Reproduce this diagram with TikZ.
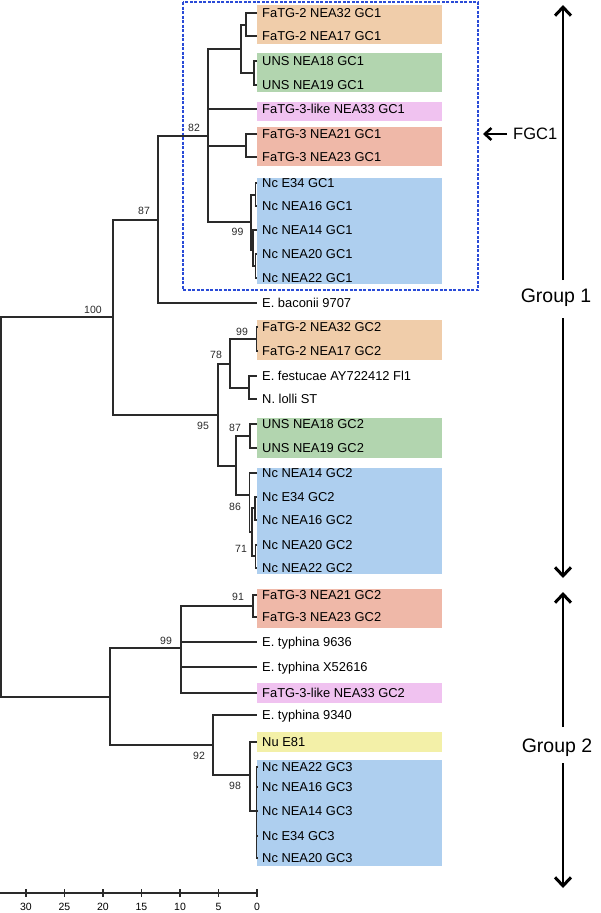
\documentclass[tikz,border=0pt]{standalone}
\usepackage{fontspec}
\setmainfont{Liberation Sans}
\usetikzlibrary{arrows.meta}
\definecolor{cOr}{HTML}{F0CDAA}
\definecolor{cGr}{HTML}{B2D5AF}
\definecolor{cPk}{HTML}{F0C2F0}
\definecolor{cRd}{HTML}{EFB8A8}
\definecolor{cBl}{HTML}{AECFEF}
\definecolor{cYl}{HTML}{F3F0A8}
\definecolor{cDash}{HTML}{2A4BD7}
\definecolor{cLine}{HTML}{2A2A2A}
\begin{document}
\begin{tikzpicture}[x=1pt,y=-1pt,
  br/.style={draw=cLine, line width=1.1pt},
  leaf/.style={anchor=west, inner xsep=5pt, inner ysep=0pt, font=\fontsize{12.9}{14}\selectfont, text height=9.2pt, text depth=0pt},
  boot/.style={inner sep=0pt, font=\fontsize{10.5}{12}\selectfont, text height=7.5pt, text depth=0pt, text=cLine},
  grp/.style={inner sep=0pt, font=\fontsize{19.5}{22}\selectfont, text height=14pt, text depth=0pt},
  garrow/.style={draw=black, line width=1.4pt, -{Straight Barb[length=8.5pt,width=16pt,line width=3pt]}},
  farrow/.style={draw=black, line width=1.4pt, -{Straight Barb[length=6.5pt,width=12pt,line width=2.6pt]}}
]
\useasboundingbox (0,0) rectangle (600,913);

% coloured boxes
\fill[cOr] (257,5) rectangle (442,44);
\fill[cGr] (257,53) rectangle (442,92);
\fill[cPk] (257,102) rectangle (442,121);
\fill[cRd] (257,127) rectangle (442,166);
\fill[cBl] (257,178) rectangle (442,284);
\fill[cOr] (257,320) rectangle (442,360);
\fill[cGr] (257,418) rectangle (442,458);
\fill[cBl] (257,468) rectangle (442,574);
\fill[cRd] (257,589) rectangle (442,628);
\fill[cPk] (257,683) rectangle (442,703);
\fill[cYl] (257,732) rectangle (442,752);
\fill[cBl] (257,760) rectangle (442,866);

% dashed FGC1 box
\draw[cDash, line width=1.1pt, dash pattern=on 3pt off 1.5pt] (183,2) rectangle (478,290);

% leaves
\node[leaf] (l1) at (257,13) {FaTG-2 NEA32 GC1};
\node[leaf] (l2) at (257,36) {FaTG-2 NEA17 GC1};
\node[leaf] (l3) at (257,61) {UNS NEA18 GC1};
\node[leaf] (l4) at (257,85) {UNS NEA19 GC1};
\node[leaf] (l5) at (257,109) {FaTG-3-like NEA33 GC1};
\node[leaf] (l6) at (257,134) {FaTG-3 NEA21 GC1};
\node[leaf] (l7) at (257,157) {FaTG-3 NEA23 GC1};
\node[leaf] (l8) at (257,183) {Nc E34 GC1};
\node[leaf] (l9) at (257,206) {Nc NEA16 GC1};
\node[leaf] (l10) at (257,230) {Nc NEA14 GC1};
\node[leaf] (l11) at (257,254) {Nc NEA20 GC1};
\node[leaf] (l12) at (257,278) {Nc NEA22 GC1};
\node[leaf] (lb) at (257,303) {E. baconii 9707};
\node[leaf] (l13) at (257,327) {FaTG-2 NEA32 GC2};
\node[leaf] (l14) at (257,351) {FaTG-2 NEA17 GC2};
\node[leaf] (l15) at (257,376) {E. festucae AY722412 Fl1};
\node[leaf] (l16) at (257,399) {N. lolli ST};
\node[leaf] (l17) at (257,424) {UNS NEA18 GC2};
\node[leaf] (l18) at (257,448) {UNS NEA19 GC2};
\node[leaf] (l19) at (257,473) {Nc NEA14 GC2};
\node[leaf] (l20) at (257,497) {Nc E34 GC2};
\node[leaf] (l21) at (257,520) {Nc NEA16 GC2};
\node[leaf] (l22) at (257,545) {Nc NEA20 GC2};
\node[leaf] (l23) at (257,568) {Nc NEA22 GC2};
\node[leaf] (l24) at (257,595) {FaTG-3 NEA21 GC2};
\node[leaf] (l25) at (257,617) {FaTG-3 NEA23 GC2};
\node[leaf] (l26) at (257,642) {E. typhina 9636};
\node[leaf] (l27) at (257,667) {E. typhina X52616};
\node[leaf] (l28) at (257,693) {FaTG-3-like NEA33 GC2};
\node[leaf] (l29) at (257,715) {E. typhina 9340};
\node[leaf] (l30) at (257,742) {Nu E81};
\node[leaf] (l31) at (257,767) {Nc NEA22 GC3};
\node[leaf] (l32) at (257,787) {Nc NEA16 GC3};
\node[leaf] (l33) at (257,811) {Nc NEA14 GC3};
\node[leaf] (l34) at (257,836) {Nc E34 GC3};
\node[leaf] (l35) at (257,858) {Nc NEA20 GC3};

% internal nodes
\coordinate (root) at (1,507);
\coordinate (n100) at (113,317);
\coordinate (n87) at (158,220);
\coordinate (n82) at (208,136);
\coordinate (nA) at (241,49);
\coordinate (nF2) at (246,25);
\coordinate (nU1) at (254,73);
\coordinate (nF3) at (246,146);
\coordinate (nC1) at (251,222);
\coordinate (nA1) at (255.5,195);
\coordinate (nD1) at (253,250);
\coordinate (nB1) at (255.5,266);
\coordinate (n95) at (218,415);
\coordinate (n78) at (230,364);
\coordinate (n99b) at (256.5,339);
\coordinate (nEN) at (249,388);
\coordinate (n87b) at (236,466);
\coordinate (nU2) at (250,436);
\coordinate (nN1) at (249.5,495);
\coordinate (nN2) at (252,532);
\coordinate (nN3) at (255,508);
\coordinate (nN4) at (255.5,556);
\coordinate (g2) at (110,697);
\coordinate (n99c) at (181,648);
\coordinate (n91) at (253,606);
\coordinate (n92) at (213,745);
\coordinate (n98) at (250,775);
\coordinate (nG3) at (256.5,811);

% branches
\draw[br] (root) |- (n100);
\draw[br] (root) |- (g2);
\draw[br] (n100) |- (n87);
\draw[br] (n100) |- (n95);
\draw[br] (n87) |- (n82);
\draw[br] (n87) |- (lb.west);
\draw[br] (n82) |- (nA);
\draw[br] (n82) |- (l5.west);
\draw[br] (n82) |- (nF3);
\draw[br] (n82) |- (nC1);
\draw[br] (nA) |- (nF2);
\draw[br] (nA) |- (nU1);
\draw[br] (nF2) |- (l1.west);
\draw[br] (nF2) |- (l2.west);
\draw[br] (nU1) |- (l3.west);
\draw[br] (nU1) |- (l4.west);
\draw[br] (nF3) |- (l6.west);
\draw[br] (nF3) |- (l7.west);
\draw[br] (nC1) |- (nA1);
\draw[br] (nC1) |- (nD1);
\draw[br] (nA1) |- (l8.west);
\draw[br] (nA1) |- (l9.west);
\draw[br] (nD1) |- (l10.west);
\draw[br] (nD1) |- (nB1);
\draw[br] (nB1) |- (l11.west);
\draw[br] (nB1) |- (l12.west);
\draw[br] (n95) |- (n78);
\draw[br] (n95) |- (n87b);
\draw[br] (n78) |- (n99b);
\draw[br] (n78) |- (nEN);
\draw[br] (n99b) |- (l13.west);
\draw[br] (n99b) |- (l14.west);
\draw[br] (nEN) |- (l15.west);
\draw[br] (nEN) |- (l16.west);
\draw[br] (n87b) |- (nU2);
\draw[br] (n87b) |- (nN1);
\draw[br] (nU2) |- (l17.west);
\draw[br] (nU2) |- (l18.west);
\draw[br] (nN1) |- (l19.west);
\draw[br] (nN1) |- (nN2);
\draw[br] (nN2) |- (nN3);
\draw[br] (nN2) |- (nN4);
\draw[br] (nN3) |- (l20.west);
\draw[br] (nN3) |- (l21.west);
\draw[br] (nN4) |- (l22.west);
\draw[br] (nN4) |- (l23.west);
\draw[br] (g2) |- (n99c);
\draw[br] (g2) |- (n92);
\draw[br] (n99c) |- (n91);
\draw[br] (n99c) |- (l26.west);
\draw[br] (n99c) |- (l27.west);
\draw[br] (n99c) |- (l28.west);
\draw[br] (n91) |- (l24.west);
\draw[br] (n91) |- (l25.west);
\draw[br] (n92) |- (l29.west);
\draw[br] (n92) |- (n98);
\draw[br] (n98) |- (l30.west);
\draw[br] (n98) |- (nG3);
\draw[br] (nG3) |- (l31.west);
\draw[br] (nG3) |- (l32.west);
\draw[br] (nG3) |- (l33.west);
\draw[br] (nG3) |- (l34.west);
\draw[br] (nG3) |- (l35.west);

% bootstrap values
\node[boot] (b100) at (93,310) {100};
\node[boot] (b87) at (144,211) {87};
\node[boot] (b82) at (194,128) {82};
\node[boot] (b99a) at (237.5,232) {99};
\node[boot] (b99b) at (242,332) {99};
\node[boot] (b78) at (216,355) {78};
\node[boot] (b95) at (203,426) {95};
\node[boot] (b87b) at (235,428) {87};
\node[boot] (b86) at (235,507) {86};
\node[boot] (b71) at (241,549) {71};
\node[boot] (b91) at (238,597) {91};
\node[boot] (b99c) at (166,641) {99};
\node[boot] (b92) at (199,756) {92};
\node[boot] (b98) at (235,786) {98};

% FGC1 label
\node[inner sep=0pt, anchor=west, font=\fontsize{16.5}{18}\selectfont, text height=11.8pt, text depth=0pt] (fgc) at (513,134) {FGC1};
\coordinate (fgcTip) at (483,134);
\draw[farrow] ([xshift=-6pt]fgc.west) -- (fgcTip);

% group arrows
\node[grp] (grp1) at (556,295) {Group 1};
\node[grp] (grp2) at (557,745) {Group 2};
\coordinate (g1top) at (563,5);
\coordinate (g1a) at (563,280);
\coordinate (g1b) at (563,318);
\coordinate (g1bot) at (563,578);
\coordinate (g2top) at (563,592);
\coordinate (g2a) at (563,727);
\coordinate (g2b) at (563,763);
\coordinate (g2bot) at (563,888);
\draw[garrow] (g1a) -- (g1top);
\draw[garrow] (g1b) -- (g1bot);
\draw[garrow] (g2a) -- (g2top);
\draw[garrow] (g2b) -- (g2bot);

% scale axis
\coordinate (ax0) at (0,893);
\coordinate (ax1) at (257,893);
\draw[cLine, line width=1.1pt] (ax0) -- (ax1);
\foreach \v [count=\i] in {0,5,10,15,20,25,30} {
  \draw[cLine, line width=1.1pt] (257-7.7*\v,889) -- (257-7.7*\v,897);
  \node[boot, text=black] (t\i) at (257-7.7*\v,907) {\v};
}
\end{tikzpicture}
\end{document}
